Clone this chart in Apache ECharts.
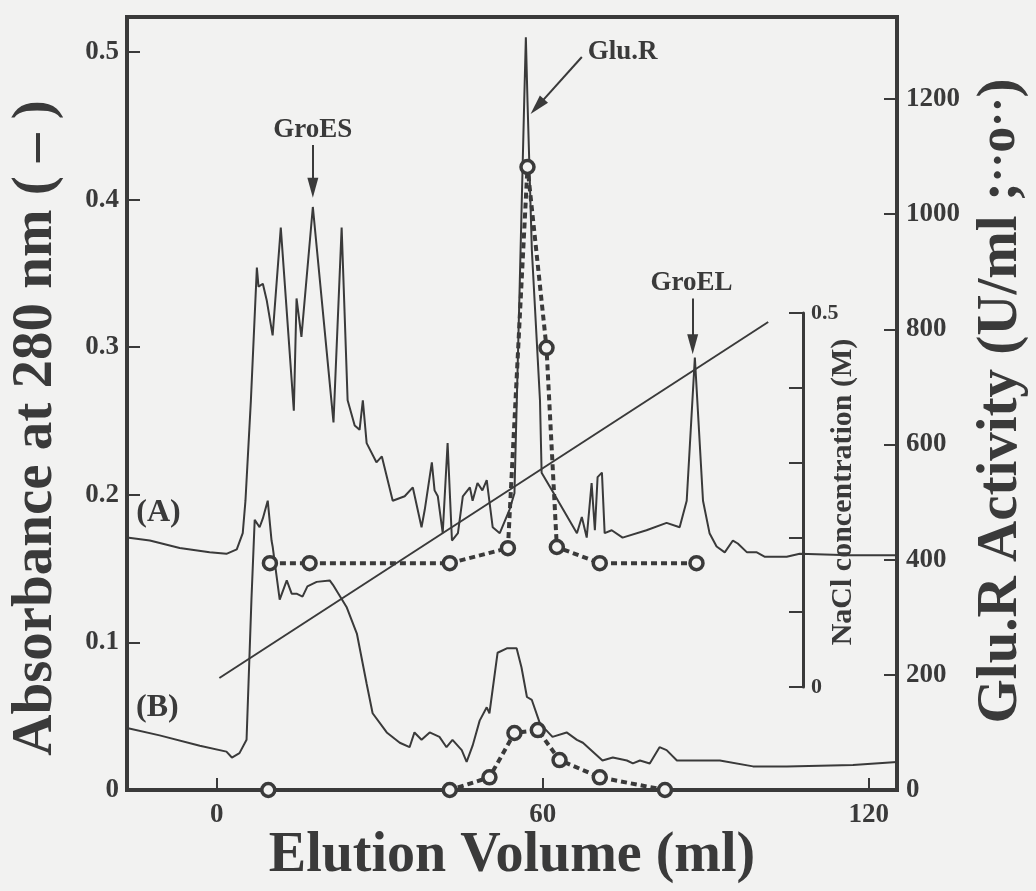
<!DOCTYPE html>
<html>
<head>
<meta charset="utf-8">
<script src="https://cdn.jsdelivr.net/npm/echarts@6/dist/echarts.min.js"></script>
<style>
  html, body { margin: 0; padding: 0; background: #f2f2f1; }
  #chart { width: 1036px; height: 891px; }
</style>
</head>
<body>
<div id="chart"></div>
<script>
// Absorbance at 280 nm, run (A): [elution volume (ml), absorbance]
const traceA = [
  [-16.5, 0.171], [-12.3, 0.169], [-6.8, 0.164], [-1.3, 0.161], [1.8, 0.160], [3.7, 0.163],
  [4.8, 0.174], [5.3, 0.196], [6.3, 0.264], [7.4, 0.354], [7.7, 0.341], [8.5, 0.343],
  [9.2, 0.332], [10.3, 0.308], [11.8, 0.381], [14.2, 0.257], [14.7, 0.333], [15.6, 0.307],
  [17.7, 0.395], [21.5, 0.249], [23.0, 0.381], [24.1, 0.264], [25.4, 0.247], [26.3, 0.244],
  [26.9, 0.264], [27.6, 0.235], [29.4, 0.222], [30.4, 0.226], [32.4, 0.196], [34.6, 0.199],
  [36.1, 0.205], [37.7, 0.178], [38.3, 0.190], [39.6, 0.222], [40.1, 0.203], [40.7, 0.199],
  [41.6, 0.174], [42.5, 0.235], [43.3, 0.169], [44.4, 0.174], [45.3, 0.199], [46.6, 0.205],
  [47.1, 0.196], [48.0, 0.208], [48.9, 0.203], [49.7, 0.210], [50.8, 0.178], [52.1, 0.174],
  [53.9, 0.190], [54.8, 0.201], [55.7, 0.332], [56.6, 0.467], [56.9, 0.510], [57.2, 0.467],
  [58.0, 0.366], [59.5, 0.264], [59.8, 0.215], [61.7, 0.203], [66.3, 0.174], [67.2, 0.185],
  [68.1, 0.171], [69.0, 0.208], [69.6, 0.176], [70.1, 0.212], [70.9, 0.215], [71.4, 0.174],
  [72.7, 0.176], [74.7, 0.171], [79.1, 0.176], [82.8, 0.181], [85.2, 0.178], [86.5, 0.196],
  [88.0, 0.293], [89.5, 0.196], [90.7, 0.174], [92.0, 0.165], [93.5, 0.161], [95.0, 0.169],
  [95.9, 0.167], [97.6, 0.161], [99.4, 0.161], [100.9, 0.158], [104.9, 0.158], [107.3, 0.160],
  [116.5, 0.159], [125.2, 0.159]
];

// Absorbance at 280 nm, run (B)
const traceB = [
  [-16.5, 0.042], [-10.5, 0.037], [-3.1, 0.030], [1.8, 0.026], [2.8, 0.022], [4.2, 0.025],
  [5.5, 0.034], [6.4, 0.129], [7.0, 0.183], [7.9, 0.178], [8.5, 0.184], [8.8, 0.188],
  [9.4, 0.196], [10.1, 0.169], [10.3, 0.165], [11.6, 0.129], [12.9, 0.142], [13.8, 0.133],
  [14.7, 0.133], [15.8, 0.131], [16.7, 0.138], [18.4, 0.141], [20.8, 0.142], [21.4, 0.139],
  [23.9, 0.124], [25.8, 0.106], [27.6, 0.072], [28.7, 0.052], [31.3, 0.039], [33.7, 0.032],
  [35.5, 0.029], [36.4, 0.039], [37.7, 0.034], [39.2, 0.039], [41.0, 0.036], [42.3, 0.029],
  [43.4, 0.034], [45.1, 0.027], [46.0, 0.019], [47.1, 0.030], [48.4, 0.047], [49.7, 0.056],
  [50.2, 0.052], [51.7, 0.093], [53.4, 0.096], [55.2, 0.096], [56.1, 0.083], [57.1, 0.063],
  [58.0, 0.061], [59.5, 0.045], [61.8, 0.036], [64.4, 0.039], [66.3, 0.034], [67.4, 0.032],
  [71.0, 0.020], [72.9, 0.022], [75.5, 0.020], [76.6, 0.018], [77.9, 0.020], [79.7, 0.018],
  [81.5, 0.029], [82.8, 0.027], [84.7, 0.020], [92.6, 0.020], [98.7, 0.016], [104.9, 0.016],
  [117.1, 0.017], [125.2, 0.019]
];

// Glu.R activity (U/ml) of collected fractions
const activityA = [
  [9.8, 394], [17.1, 394], [42.9, 394], [53.6, 420], [57.2, 1082],
  [60.7, 768], [62.6, 422], [70.5, 394], [88.3, 394]
];
const activityB = [
  [9.5, 0], [42.9, 0], [50.2, 22], [54.8, 99], [59.1, 104],
  [63.1, 52], [70.5, 22], [82.5, 0]
];

// Linear NaCl gradient (M)
const naclGradient = [[0.5, 0.012], [101.5, 0.488]];

// Tick values
const volumeTicks = [0, 60, 120];
const absorbanceTicks = [0, 0.1, 0.2, 0.3, 0.4, 0.5];
const activityTicks = [0, 200, 400, 600, 800, 1000, 1200];
const naclTicks = [0, 0.1, 0.2, 0.3, 0.4, 0.5];
const naclLabelTicks = [0, 0.5];

// Peak annotations (volume, absorbance)
const peakNames = ['GroES', 'Glu.R', 'GroEL'];
const peakLabelAt = [[17.7, 0.447], [74.7, 0.500], [87.4, 0.3435]];
const peakArrowFrom = [[17.7, 0.437], [67.2, 0.4966], [87.6, 0.333]];
const peakArrowTo = [[17.7, 0.408], [59.0, 0.463], [87.6, 0.302]];

// Run labels
const runNames = ['(A)', '(B)'];
const runLabelAt = [[-10.7, 0.188], [-10.9, 0.0556]];

const INK = '#3a3a3a';
const BG = '#f2f2f1';
const SERIF = "'Liberation Serif', 'Times New Roman', serif";

const chart = echarts.init(document.getElementById('chart'), null, { renderer: 'canvas' });

const tickLabel = (size) => ({
  color: INK, fontFamily: SERIF, fontWeight: 'bold', fontSize: size
});
const fmt1 = (v) => (v === 0 ? '0' : v.toFixed(1));
const fmtInt = (v) => String(Math.round(v));

const X_MIN = -16.5, X_MAX = 125.2;

const option = {
  backgroundColor: BG,
  animation: false,
  grid: [
    { left: 127, right: 139, top: 17, bottom: 101, show: true, borderColor: INK, borderWidth: 4,
      backgroundColor: 'transparent', outerBoundsMode: 'none', containLabel: false },
    { left: 127, right: 139, top: 313, bottom: 204, show: false, outerBoundsMode: 'none', containLabel: false }
  ],
  xAxis: [
    {
      type: 'value', gridIndex: 0, position: 'bottom', min: X_MIN, max: X_MAX,
      axisLine: { show: false, onZero: false },
      splitLine: { show: false },
      axisTick: { show: true, inside: true, length: 12, customValues: volumeTicks,
        lineStyle: { color: INK, width: 2 } },
      axisLabel: Object.assign({ show: true, margin: 12, customValues: volumeTicks }, tickLabel(27))
    },
    {
      type: 'value', gridIndex: 1, position: 'bottom', min: X_MIN, max: X_MAX, show: false,
      axisLine: { onZero: false }
    }
  ],
  yAxis: [
    {
      type: 'value', gridIndex: 0, position: 'left', min: 0, max: 0.5237,
      axisLine: { show: false, onZero: false },
      splitLine: { show: false },
      axisTick: { show: true, inside: true, length: 13, customValues: absorbanceTicks,
        lineStyle: { color: INK, width: 2 } },
      axisLabel: Object.assign({ show: true, margin: 8, customValues: absorbanceTicks, formatter: fmt1 }, tickLabel(27))
    },
    {
      type: 'value', gridIndex: 0, position: 'right', min: 0, max: 1342.5,
      axisLine: { show: false, onZero: false },
      splitLine: { show: false },
      axisTick: { show: true, inside: true, length: 13, customValues: activityTicks,
        lineStyle: { color: INK, width: 2 } },
      axisLabel: Object.assign({ show: true, margin: 9, customValues: activityTicks, formatter: fmtInt }, tickLabel(27))
    },
    {
      type: 'value', gridIndex: 1, position: 'right', offset: -94, min: 0, max: 0.5,
      axisLine: { show: true, onZero: false, lineStyle: { color: INK, width: 3 } },
      splitLine: { show: false },
      axisTick: { show: true, inside: true, length: 14, customValues: naclTicks,
        lineStyle: { color: INK, width: 2 } },
      axisLabel: Object.assign({ show: true, margin: 8, customValues: naclLabelTicks, formatter: fmt1 }, tickLabel(22))
    }
  ],
  series: [
    {
      name: 'A280 (A)', type: 'line', xAxisIndex: 0, yAxisIndex: 0, data: traceA,
      symbol: 'none', z: 2,
      lineStyle: { color: INK, width: 2 },
      markLine: {
        silent: true, animation: false,
        lineStyle: { color: INK, width: 2, type: 'solid' },
        label: { show: false },
        emphasis: { disabled: true },
        data: peakArrowFrom.map((p, i) => [
          { coord: p, symbol: 'none' },
          { coord: peakArrowTo[i], symbol: 'triangle', symbolSize: [11, 20] }
        ])
      },
      markPoint: {
        silent: true, animation: false,
        symbol: 'circle', symbolSize: 1,
        itemStyle: { color: 'rgba(0,0,0,0)' },
        label: { show: true, position: 'inside', formatter: '{b}', color: INK,
          fontFamily: SERIF, fontWeight: 'bold', fontSize: 27 },
        data: peakNames.map((n, i) => ({ name: n, coord: peakLabelAt[i] }))
          .concat(runNames.map((n, i) => ({ name: n, coord: runLabelAt[i],
            label: { fontSize: 32 } })))
      }
    },
    {
      name: 'A280 (B)', type: 'line', xAxisIndex: 0, yAxisIndex: 0, data: traceB,
      symbol: 'none', z: 2,
      lineStyle: { color: INK, width: 2 }
    },
    {
      name: 'Glu.R (A)', type: 'line', xAxisIndex: 0, yAxisIndex: 1, data: activityA,
      symbol: 'circle', symbolSize: 13, showAllSymbol: true, z: 4,
      lineStyle: { color: INK, width: 4, type: [6, 4] },
      itemStyle: { color: BG, borderColor: INK, borderWidth: 3.5 }
    },
    {
      name: 'Glu.R (B)', type: 'line', xAxisIndex: 0, yAxisIndex: 1, data: activityB,
      symbol: 'circle', symbolSize: 13, showAllSymbol: true, z: 4,
      lineStyle: { color: INK, width: 4, type: [6, 4] },
      itemStyle: { color: BG, borderColor: INK, borderWidth: 3.5 }
    },
    {
      name: 'NaCl', type: 'line', xAxisIndex: 1, yAxisIndex: 2, data: naclGradient,
      symbol: 'none', z: 3, clip: false,
      lineStyle: { color: INK, width: 2 }
    }
  ],
  graphic: [
    {
      type: 'text', x: 36, y: 428, rotation: Math.PI / 2, silent: true,
      style: { text: 'Absorbance at 280 nm ( \u2013 )', fill: INK, font: 'bold 57px ' + SERIF,
        textAlign: 'center', textVerticalAlign: 'middle' }
    },
    {
      type: 'text', x: 1001, y: 401, rotation: Math.PI / 2, silent: true,
      style: {
        text: 'Glu.R Activity (U/ml ;{d|\u00b7\u00b7}{o|o}{d|\u00b7\u00b7})',
        fill: INK, font: 'bold 57px ' + SERIF,
        textAlign: 'center', textVerticalAlign: 'middle',
        rich: {
          d: { fill: INK, fontFamily: SERIF, fontWeight: 'bold', fontSize: 44 },
          o: { fill: INK, fontFamily: SERIF, fontWeight: 'bold', fontSize: 52 }
        }
      }
    },
    {
      type: 'text', x: 512, y: 857, silent: true,
      style: { text: 'Elution Volume (ml)', fill: INK, font: 'bold 56px ' + SERIF,
        textAlign: 'center', textVerticalAlign: 'middle' }
    },
    {
      type: 'text', x: 843, y: 492, rotation: Math.PI / 2, silent: true,
      style: { text: 'NaCl concentration (M)', fill: INK, font: 'bold 30px ' + SERIF,
        textAlign: 'center', textVerticalAlign: 'middle' }
    }
  ]
};

chart.setOption(option);
</script>
</body>
</html>
